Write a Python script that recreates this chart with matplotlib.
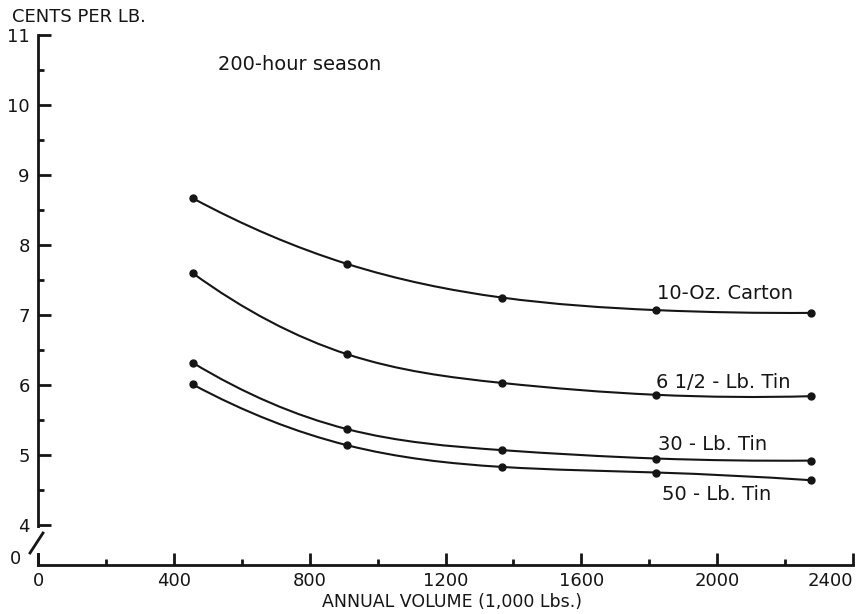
import matplotlib
matplotlib.use("Agg")
import matplotlib.pyplot as plt
import numpy as np
from matplotlib.path import Path
from matplotlib.patches import PathPatch
from matplotlib.lines import Line2D

# ---- data ----
volume = [455, 910, 1365, 1820, 2275]          # 1,000 lbs
carton_10oz = [8.67, 7.73, 7.25, 7.07, 7.03]
tin_6_5lb = [7.60, 6.44, 6.03, 5.86, 5.84]
tin_30lb = [6.32, 5.37, 5.07, 4.95, 4.92]
tin_50lb = [6.01, 5.14, 4.83, 4.75, 4.64]
series_labels = ["10-Oz. Carton", "6 1/2 - Lb. Tin", "30 - Lb. Tin", "50 - Lb. Tin"]
x_ticks = [0, 400, 800, 1200, 1600, 2000, 2400]
y_ticks = [4, 5, 6, 7, 8, 9, 10, 11]

plt.rcParams['font.family'] = ['DejaVu Sans']
INK = '#151515'

W, H = 863, 614
fig = plt.figure(figsize=(W / 100, H / 100), dpi=100)
fig.patch.set_facecolor('white')

x0px, x1px = 38, 853
ybot_px, ytop_px = 565, 35
ax = fig.add_axes([x0px / W, 1 - ybot_px / H, (x1px - x0px) / W, (ybot_px - ytop_px) / H])
ax.set_facecolor('white')
ymin = 11 - (ybot_px - ytop_px) / 70.0
ax.set_xlim(0, 2400)
ax.set_ylim(ymin, 11)

for s in ['top', 'right']:
    ax.spines[s].set_visible(False)
for s in ['left', 'bottom']:
    ax.spines[s].set_linewidth(2.0)
    ax.spines[s].set_color(INK)

ax.set_xticks(x_ticks)
ax.set_xticklabels([str(v) for v in x_ticks])
ax.set_xticks(np.arange(200, 2400, 400), minor=True)
ax.set_yticks(y_ticks)
ax.set_yticklabels([str(v) for v in y_ticks])
ax.set_yticks(np.arange(4.5, 11, 1.0), minor=True)
ax.tick_params(axis='both', which='major', direction='in', length=9, width=2.0,
               color=INK, labelsize=13, labelcolor=INK)
ax.tick_params(axis='both', which='minor', direction='in', length=4.5, width=2.0,
               color=INK)
ax.tick_params(axis='x', which='major', pad=5)
ax.tick_params(axis='y', which='major', pad=6)
# last x tick label sits left of its tick, as in the original
xt = ax.get_xticklabels()
xt[-1].set_horizontalalignment('right')

# y-axis "0" label below the break
fig.text(15 / W, 1 - 559 / H, "0", ha='center', va='center', fontsize=13, color=INK)
# break mark
fig.add_artist(Line2D([30 / W, 43 / W], [1 - 553 / H, 1 - 533 / H],
                      color=INK, lw=2.0))
# gap in the axis at the break
ax.plot([0, 0], [ymin + 0.17, 3.96], color='white', lw=4, clip_on=False, zorder=5,
        solid_capstyle='butt')


def spline_path(xs, ys):
    """Cubic spline (parabolic run-out ends) through the points, as Bezier segments."""
    xs = np.asarray(xs, float)
    ys = np.asarray(ys, float)
    n = len(xs)
    h = np.diff(xs)
    A = np.zeros((n, n))
    b = np.zeros(n)
    A[0, 0], A[0, 1] = 1, -1
    A[-1, -1], A[-1, -2] = 1, -1
    for i in range(1, n - 1):
        A[i, i - 1] = h[i - 1]
        A[i, i] = 2 * (h[i - 1] + h[i])
        A[i, i + 1] = h[i]
        b[i] = 6 * ((ys[i + 1] - ys[i]) / h[i] - (ys[i] - ys[i - 1]) / h[i - 1])
    M = np.linalg.solve(A, b)
    d = np.zeros(n)
    for i in range(n - 1):
        d[i] = (ys[i + 1] - ys[i]) / h[i] - h[i] * (2 * M[i] + M[i + 1]) / 6
    d[-1] = (ys[-1] - ys[-2]) / h[-1] + h[-1] * (M[-2] + 2 * M[-1]) / 6
    verts = [(xs[0], ys[0])]
    codes = [Path.MOVETO]
    for i in range(n - 1):
        verts += [(xs[i] + h[i] / 3, ys[i] + d[i] * h[i] / 3),
                  (xs[i + 1] - h[i] / 3, ys[i + 1] - d[i + 1] * h[i] / 3),
                  (xs[i + 1], ys[i + 1])]
        codes += [Path.CURVE4] * 3
    return Path(verts, codes)


for ys in [carton_10oz, tin_6_5lb, tin_30lb, tin_50lb]:
    ax.add_patch(PathPatch(spline_path(volume, ys), facecolor='none',
                           edgecolor=INK, lw=1.5))
    ax.plot(volume, ys, 'o', color=INK, markersize=5, zorder=4)

# series labels
lab_pos = [(1823, 7.31), (1820, 6.03), (1826, 5.15), (1837, 4.43)]
for (lx, ly), txt in zip(lab_pos, series_labels):
    ax.text(lx, ly, txt, ha='left', va='center', fontsize=14, color=INK)

fig.text(218 / W, 1 - 65 / H, "200-hour season", ha='left', va='center',
         fontsize=14, color=INK)
fig.text(12 / W, 1 - 17 / H, "CENTS PER LB.", ha='left', va='center', fontsize=13,
         color=INK)
fig.text(452 / W, 1 - 602 / H, "ANNUAL VOLUME (1,000 Lbs.)", ha='center',
         va='center', fontsize=12.5, color=INK)

fig.savefig("out.png", dpi=100, facecolor='white')
